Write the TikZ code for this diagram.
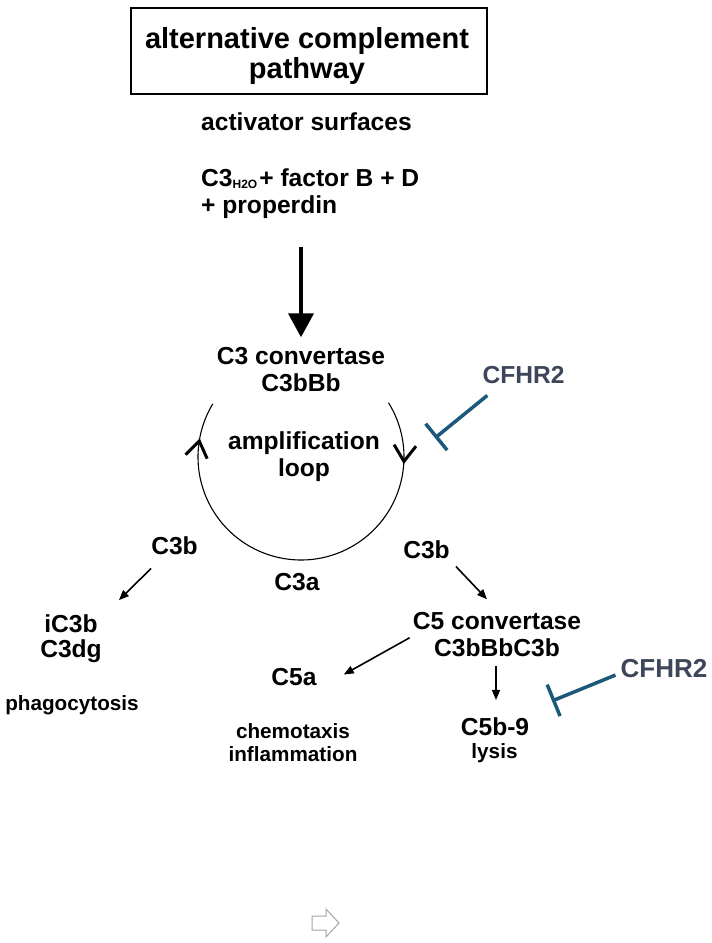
\documentclass[tikz,border=0pt]{standalone}
\usepackage{fontspec}
\setmainfont{Liberation Sans}
\usetikzlibrary{arrows.meta,calc,decorations.markings}
\definecolor{cfhrtext}{RGB}{62,70,90}
\definecolor{cfhrline}{RGB}{28,88,122}
\definecolor{hintgray}{RGB}{165,165,165}

\begin{document}
\begin{tikzpicture}[x=1pt,y=-1pt,
	every node/.style={inner sep=0pt, font=\bfseries},
	big/.style={font=\bfseries\fontsize{24.6}{27}\selectfont},
	small/.style={font=\bfseries\fontsize{20.7}{23}\selectfont},
	frame/.style={line width=2pt},
	bigarrow/.style={line width=4pt, -{Triangle[length=24pt,width=25pt]}},
	conn/.style={line width=1.6pt, -{Triangle[length=10pt,width=8pt]}},
	inhibit/.style={cfhrline, line width=3.5pt, -{Bar[width=34pt]}},
	loopline/.style={line width=1.1pt},
	hint/.style={hintgray, line width=1pt}]

	\useasboundingbox (0,0) rectangle (712,943);

	\coordinate (loopc) at (301,457);
	\draw[frame] (131,8) rectangle (487,94);
	\node[align=center, font=\bfseries\fontsize{29}{30}\selectfont] (title) at (307,55.6) {alternative complement\\pathway};
	\node[big, anchor=base west] (activator) at (201,130) {activator surfaces};
	\node[big, align=left, anchor=west] (reactants) at (201,194.1)
		{C3\raisebox{-1.5pt}{\fontsize{12}{12}\selectfont H2O}\hspace{2pt}+ factor B + D\\+ properdin};
	\node[big, align=center] (c3conv) at (301,369.7) {C3 convertase\\C3bBb};
	\draw[bigarrow, shorten <=28pt, shorten >=10pt] (reactants.south -| c3conv.north) -- (c3conv.north);

	% amplification loop
	\draw[loopline, postaction={decorate}, decoration={markings,
		mark=at position 0.147 with {\arrow{Straight Barb[length=16pt,width=22pt,line width=3pt]}},
		mark=at position 0.915 with {\arrow{Straight Barb[length=16pt,width=22pt,line width=3pt]}}}]
		(loopc) ++(-31.8:103) arc[start angle=-31.8, end angle=211.1, radius=103];
	\node[big, align=center] (amploop) at (304,457.1) {amplification\\loop};

	\node[big, text=cfhrtext, anchor=base] (cfhrA) at (523.5,383) {CFHR2};
	\coordinate (inhA) at (435,438);
	\draw[inhibit] ($(cfhrA.south west)+(5,12)$) -- (inhA);

	\node[big, anchor=base] (c3bL) at (174.5,554) {C3b};
	\node[big, align=center, font=\bfseries\fontsize{24.6}{25}\selectfont] (ic3b) at (71,638.3) {iC3b\\C3dg};
	\node[small, anchor=base] (phago) at (72,710) {phagocytosis};
	\node[big, anchor=base] (c3a) at (297,590) {C3a};
	\node[big, anchor=base] (c3bR) at (426.5,558) {C3b};
	\node[big, align=center] (c5conv) at (497,634.7) {C5 convertase\\C3bBbC3b};
	\node[big, anchor=base] (c5a) at (294,685) {C5a};
	\node[small, align=center] (chemo) at (293,742.2) {chemotaxis\\inflammation};
	\node[big, anchor=base] (c5b9) at (495,735) {C5b-9};
	\node[small, anchor=base] (lysis) at (494.5,758) {lysis};

	\draw[conn] ($(c3bL.south west)+(0,14)$) -- ($(ic3b.north east)+(17,-14)$);
	\draw[conn] ($(c3bR.south east)+(6,8)$) -- ($(c5conv.north)+(-10,-13)$);
	\draw[conn] ($(c5conv.west)+(-3,3)$) -- ($(c5a.east)+(27,-2)$);
	\draw[conn] ($(c5conv.south)+(-1,9)$) -- ($(c5b9.north)+(1,-17)$);

	\node[font=\bfseries\fontsize{26}{26}\selectfont, text=cfhrtext, anchor=base] (cfhrB) at (664,677) {CFHR2};
	\coordinate (inhB) at (552,701);
	\draw[inhibit] ($(cfhrB.west)+(-5,7)$) -- (inhB);

	\draw[hint] (312,916) -- (326,916) -- (326,909) -- (339,923) -- (326,937) -- (326,930) -- (312,930) -- cycle;

\end{tikzpicture}
\end{document}
